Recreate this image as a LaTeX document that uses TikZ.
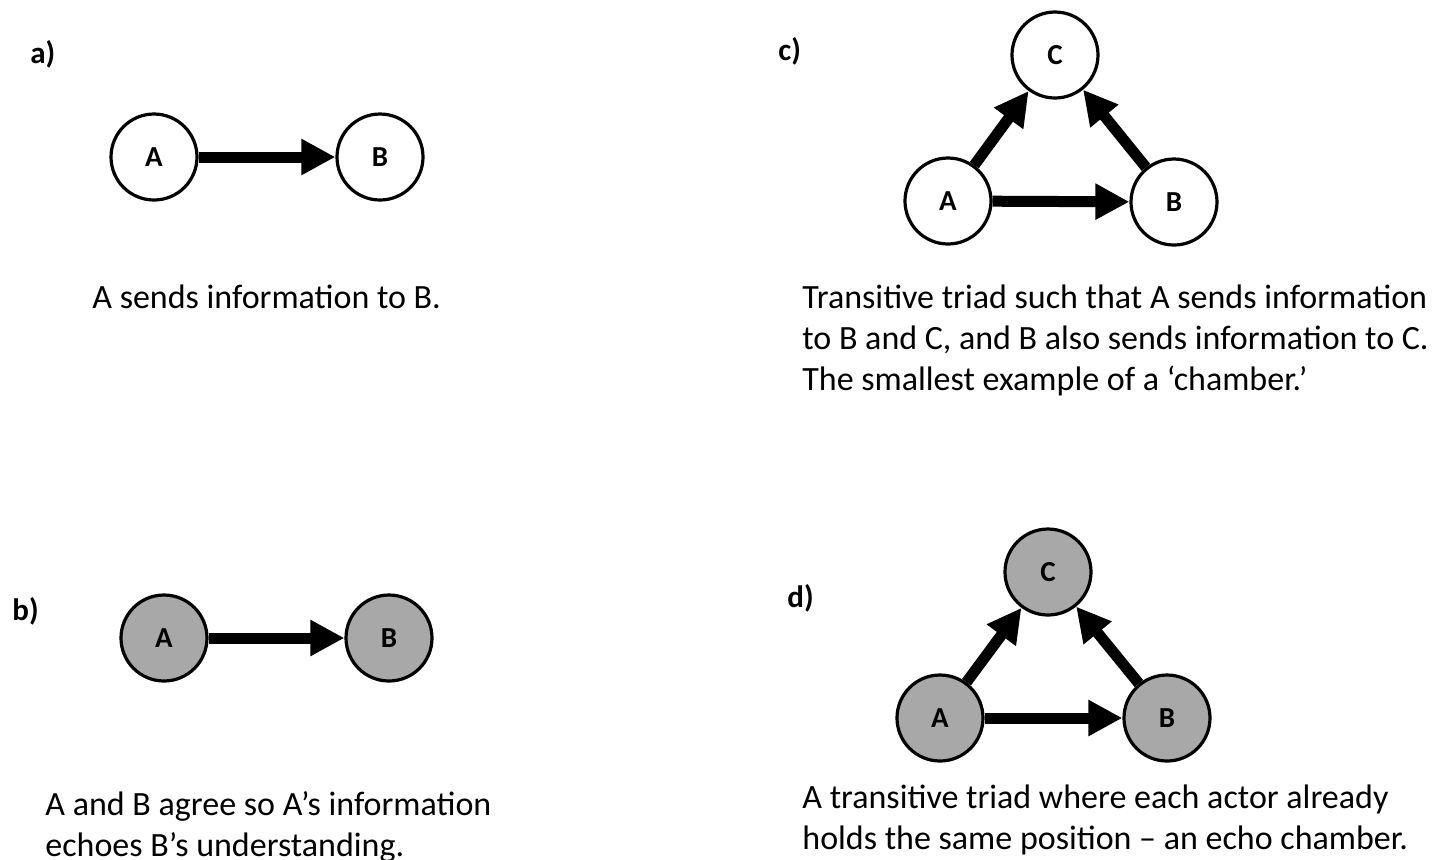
\documentclass[tikz,border=0pt]{standalone}
\usepackage{fontspec}
\setmainfont{Carlito}
\usetikzlibrary{arrows.meta}
\definecolor{nodegray}{HTML}{A8A8A8}
\tikzset{
  actor/.style={circle, draw=black, line width=1.6pt, fill=white, minimum size=43pt, inner sep=0pt, font=\bfseries\fontsize{14.5}{16}\selectfont},
  echo/.style={actor, fill=nodegray},
  link/.style={line width=5.5pt, -{Triangle[length=17pt,width=17pt]}},
  caption/.style={anchor=base west, align=left, inner sep=0pt, font=\fontsize{17}{20.5}\selectfont},
  panel/.style={anchor=base west, inner sep=0pt, font=\bfseries\fontsize{15.5}{18}\selectfont}
}
\begin{document}
\begin{tikzpicture}[x=0.5pt,y=-0.5pt]
\useasboundingbox (0,0) rectangle (1442,859);
% panel a
\node[panel] (la) at (30,63) {a)};
\node[actor] (aA) at (154,157) {A};
\node[actor] (aB) at (380,157) {B};
\draw[link] (aA) -- (aB);
\node[caption] (ta) at (92,308) {A sends information to B.};
% panel b
\node[panel] (lb) at (12,620) {b)};
\node[echo] (bA) at (164,638) {A};
\node[echo] (bB) at (389,638) {B};
\draw[link] (bA) -- (bB);
\node[caption] (tb) at (45,856) {A and B agree so A’s information\\echoes B’s understanding.};
% panel c
\node[panel] (lc) at (778,60) {c)};
\node[actor] (cC) at (1055,55) {C};
\node[actor] (cA) at (948,201) {A};
\node[actor] (cB) at (1174,202) {B};
\draw[link] (cA) -- (cB);
\draw[link] (cA) -- (cC);
\draw[link] (cB) -- (cC);
\node[caption] (tc) at (802,390) {Transitive triad such that A sends information\\to B and C, and B also sends information to C.\\The smallest example of a ‘chamber.’};
% panel d
\node[panel] (ld) at (787,607) {d)};
\node[echo] (dC) at (1048,572) {C};
\node[echo] (dA) at (940,718) {A};
\node[echo] (dB) at (1167,718) {B};
\draw[link] (dA) -- (dB);
\draw[link] (dA) -- (dC);
\draw[link] (dB) -- (dC);
\node[caption] (td) at (802,849) {A transitive triad where each actor already\\holds the same position – an echo chamber.};
\end{tikzpicture}
\end{document}
